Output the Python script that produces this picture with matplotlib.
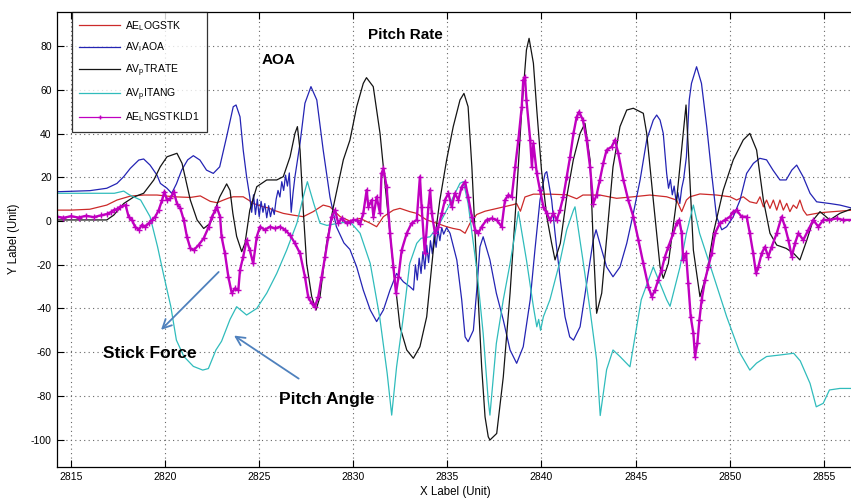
import matplotlib
matplotlib.use("Agg")
import matplotlib.pyplot as plt

plt.rcParams["font.family"] = ["Liberation Sans", "DejaVu Sans"]
plt.rcParams["mathtext.fontset"] = "custom"
plt.rcParams["mathtext.rm"] = "Liberation Sans"
plt.rcParams["mathtext.it"] = "Liberation Sans:italic"
plt.rcParams["axes.unicode_minus"] = False

# ---- flight-test channels (time in s) ----
t_red = [2814.27, 2815.0, 2816.0, 2816.9, 2817.44, 2818.15, 2818.86, 2819.57, 2820.45, 2821.34,
         2821.87, 2822.4, 2822.76, 2823.1, 2823.4, 2823.62, 2824.15, 2824.45, 2824.7, 2825.2,
         2825.5, 2825.75, 2826.28, 2826.8, 2827.34, 2827.87, 2828.4, 2828.76, 2829.3, 2829.82,
         2830.36, 2830.9, 2831.24, 2831.6, 2832.13, 2832.48, 2833.0, 2833.37, 2833.9, 2834.43,
         2834.96, 2835.31, 2835.67, 2835.94, 2836.2, 2836.56, 2837.0, 2837.5, 2838.0, 2838.5,
         2838.68, 2838.88, 2839.12, 2839.57, 2840.45, 2841.34, 2841.87, 2842.2, 2843.1, 2843.99,
         2844.88, 2845.76, 2846.65, 2847.18, 2847.45, 2847.7, 2847.89, 2848.42, 2849.3, 2850.02,
         2850.37, 2850.72, 2851.07, 2851.43, 2851.61, 2851.79, 2851.96, 2852.14, 2852.32, 2852.5,
         2852.67, 2852.85, 2853.03, 2853.2, 2853.38, 2853.56, 2853.73, 2853.91, 2854.1, 2854.8,
         2855.5, 2856.55]
v_red = [5.0, 5.0, 5.4, 7.3, 9.6, 11.4, 11.9, 11.9, 11.1, 10.8,
         11.5, 9.0, 8.4, 9.6, 10.6, 11.1, 11.1, 9.5, 8.0, 6.5,
         6.0, 5.0, 3.5, 2.7, 2.0, 4.3, 7.3, 6.5, 2.0, 0.0,
         1.2, -1.0, -2.6, 2.0, 5.0, 5.8, 4.3, 3.5, 0.5, -1.0,
         -2.6, -3.4, -4.0, -5.6, -1.0, 3.0, 4.5, 5.5, 6.5, 7.5,
         8.0, 4.5, 11.0, 12.3, 12.3, 12.0, 10.2, 11.9, 11.9, 10.4,
         11.1, 11.9, 11.1, 9.6, 4.3, 9.6, 11.1, 12.4, 11.9, 11.1,
         9.6, 11.1, 8.8, 8.1, 11.1, 6.5, 9.6, 5.8, 9.6, 5.0,
         9.6, 5.0, 8.1, 4.3, 7.3, 5.8, 9.6, 5.0, 2.7, 3.8,
         4.3, 5.0]

t_blue = [2814.27, 2816.0, 2816.9, 2817.44, 2817.8, 2818.15, 2818.6, 2818.86, 2819.2, 2819.57,
          2819.75, 2820.1, 2820.35, 2820.6, 2820.88, 2821.2, 2821.5, 2821.85, 2822.2, 2822.56,
          2822.9, 2823.27, 2823.62, 2823.77, 2823.98, 2824.15, 2824.33, 2824.5, 2824.6, 2824.7,
          2824.8, 2824.9, 2825.0, 2825.1, 2825.2, 2825.3, 2825.4, 2825.5, 2825.6, 2825.7,
          2825.8, 2825.9, 2826.0, 2826.1, 2826.2, 2826.3, 2826.4, 2826.5, 2826.6, 2826.7,
          2826.8, 2826.9, 2827.17, 2827.43, 2827.75, 2828.06, 2828.4, 2828.76, 2829.1, 2829.5,
          2829.82, 2830.18, 2830.53, 2830.9, 2831.24, 2831.6, 2831.95, 2832.3, 2832.66, 2833.0,
          2833.2, 2833.3, 2833.4, 2833.5, 2833.6, 2833.7, 2833.8, 2833.9, 2834.0, 2834.1,
          2834.2, 2834.3, 2834.4, 2834.5, 2834.6, 2834.7, 2834.8, 2834.96, 2835.14, 2835.5,
          2835.76, 2835.94, 2836.1, 2836.38, 2836.56, 2836.73, 2836.9, 2837.26, 2837.6, 2837.97,
          2838.33, 2838.68, 2839.03, 2839.4, 2839.65, 2839.92, 2840.19, 2840.28, 2840.54, 2840.72,
          2841.0, 2841.25, 2841.5, 2841.7, 2842.05, 2842.4, 2842.75, 2842.9, 2843.1, 2843.46,
          2843.8, 2844.17, 2844.53, 2844.88, 2845.24, 2845.59, 2845.94, 2846.12, 2846.3, 2846.47,
          2846.65, 2846.75, 2846.85, 2846.95, 2847.05, 2847.15, 2847.25, 2847.35, 2847.45, 2847.55,
          2847.7, 2847.85, 2847.97, 2848.24, 2848.5, 2848.78, 2849.04, 2849.3, 2849.58, 2849.84,
          2850.19, 2850.55, 2850.9, 2851.26, 2851.6, 2851.96, 2852.3, 2852.67, 2853.0, 2853.3,
          2853.56, 2853.9, 2854.27, 2854.62, 2855.33, 2855.86, 2856.55]
v_blue = [13.4, 13.9, 15.0, 17.2, 20.3, 24.1, 27.9, 28.4, 25.6, 21.0,
          17.2, 15.0, 12.7, 17.0, 23.3, 28.0, 29.9, 27.9, 23.3, 21.8,
          24.8, 38.6, 52.3, 53.1, 47.7, 32.5, 20.3, 11.0, 4.0, 12.0,
          3.0, 10.0, 2.0, 9.0, 4.0, 8.0, 1.5, 7.0, 2.0, 6.0,
          3.0, 10.0, 14.0, 11.0, 18.0, 14.0, 21.0, 16.0, 22.0, 4.0,
          13.0, 20.3, 35.6, 53.9, 61.5, 55.4, 32.5, 11.0, -2.6, -10.0,
          -13.0, -21.0, -31.6, -40.7, -46.0, -40.7, -31.6, -24.0, -27.8, -30.0,
          -31.6, -20.0, -27.0, -17.0, -24.0, -14.0, -22.0, -11.0, -19.0, -9.0,
          -15.0, -6.0, -12.0, -4.0, -9.0, -3.0, -6.0, -3.0, -5.6, -17.8,
          -36.0, -53.0, -55.2, -50.0, -31.6, -11.8, -7.2, -17.8, -33.0, -45.3,
          -59.0, -65.1, -57.5, -36.0, -13.3, 9.6, 21.8, 22.6, 9.6, -5.6,
          -27.0, -43.8, -53.0, -54.5, -48.4, -28.5, -8.7, -4.0, -10.2, -21.0,
          -25.5, -21.0, -10.2, 3.5, 18.8, 37.1, 46.2, 48.5, 46.2, 40.1,
          21.8, 15.0, 19.0, 12.0, 16.0, 9.0, 13.0, 8.0, 15.0, 19.0,
          29.4, 55.4, 63.0, 70.6, 63.0, 43.2, 21.8, 2.0, -4.0, -2.6,
          2.0, 9.6, 21.8, 26.4, 28.7, 28.0, 23.3, 18.8, 18.8, 23.3,
          25.6, 20.3, 12.7, 8.8, 8.0, 7.3, 5.8]

t_black = [2814.27, 2816.9, 2817.27, 2817.8, 2818.33, 2818.86, 2819.4, 2819.74, 2820.1, 2820.63,
           2820.9, 2821.34, 2821.7, 2822.05, 2822.4, 2822.9, 2823.27, 2823.45, 2823.6, 2823.8,
           2824.07, 2824.25, 2824.5, 2824.87, 2825.4, 2825.93, 2826.28, 2826.64, 2826.9, 2827.03,
           2827.17, 2827.34, 2827.52, 2827.79, 2828.02, 2828.23, 2828.58, 2828.94, 2829.47, 2829.82,
           2830.18, 2830.53, 2830.7, 2831.06, 2831.42, 2831.77, 2832.13, 2832.48, 2832.84, 2833.19,
           2833.54, 2833.9, 2834.25, 2834.6, 2834.96, 2835.31, 2835.67, 2835.88, 2836.1, 2836.3,
           2836.47, 2836.64, 2836.82, 2837.0, 2837.17, 2837.26, 2837.62, 2837.97, 2838.33, 2838.68,
           2838.95, 2839.2, 2839.34, 2839.57, 2839.75, 2840.0, 2840.28, 2840.54, 2840.72, 2841.0,
           2841.34, 2841.69, 2842.05, 2842.31, 2842.58, 2842.75, 2842.93, 2843.2, 2843.46, 2843.8,
           2844.17, 2844.53, 2844.88, 2845.41, 2845.59, 2845.94, 2846.3, 2846.47, 2846.74, 2847.18,
           2847.53, 2847.68, 2847.85, 2848.07, 2848.42, 2848.78, 2849.13, 2849.66, 2850.19, 2850.72,
           2851.07, 2851.43, 2851.79, 2852.14, 2852.5, 2853.0, 2853.4, 2853.73, 2854.1, 2854.44,
           2854.8, 2855.32, 2855.85, 2856.55]
v_black = [0.5, 0.5, 2.7, 8.0, 11.0, 12.7, 18.8, 24.8, 29.4, 31.0,
           26.4, 9.6, 0.5, -3.4, -1.0, 11.0, 17.0, 14.0, 3.5, -7.0,
           -14.0, -10.0, 5.0, 15.7, 18.8, 18.8, 20.3, 29.4, 40.1, 43.2,
           32.5, 5.0, -19.4, -34.6, -40.7, -34.6, -10.2, 6.5, 28.0, 37.0,
           52.3, 63.0, 65.6, 61.5, 40.1, 9.6, -21.0, -48.4, -59.0, -62.8,
           -57.5, -43.8, -13.3, 9.6, 28.0, 43.2, 55.4, 58.4, 52.3, 24.8,
           -5.6, -36.0, -66.7, -89.6, -98.7, -100.2, -97.2, -71.3, -33.0, 12.7,
           50.8, 78.3, 83.6, 72.2, 50.8, 23.3, 2.0, -10.2, -17.8, -10.2,
           11.0, 28.0, 40.1, 44.7, 28.0, -10.2, -42.2, -33.0, -8.0, 24.8,
           43.2, 50.8, 51.6, 49.3, 40.1, 9.6, -21.0, -26.2, -19.4, 9.6,
           40.1, 53.1, 24.8, -13.3, -34.6, -24.0, -5.6, 14.2, 28.0, 37.1,
           40.1, 32.5, 9.6, -5.6, -11.0, -12.5, -14.8, -17.8, -8.7, 0.5,
           4.3, 0.5, 3.5, 5.8]

t_cyan = [2814.27, 2817.3, 2817.8, 2818.1, 2818.7, 2819.2, 2819.6, 2819.9, 2820.3, 2820.6,
          2821.0, 2821.5, 2822.0, 2822.3, 2822.7, 2823.0, 2823.45, 2823.8, 2824.33, 2824.87,
          2825.4, 2825.93, 2826.46, 2827.0, 2827.34, 2827.56, 2827.9, 2828.23, 2828.6, 2829.2,
          2829.83, 2830.36, 2830.9, 2831.4, 2831.8, 2832.04, 2832.3, 2832.66, 2833.0, 2833.37,
          2833.6, 2834.08, 2834.6, 2835.14, 2835.67, 2835.85, 2836.1, 2836.56, 2836.9, 2837.17,
          2837.26, 2837.6, 2837.97, 2838.33, 2838.68, 2838.77, 2839.2, 2839.57, 2839.75, 2839.85,
          2839.95, 2840.1, 2840.45, 2841.0, 2841.34, 2841.7, 2841.78, 2842.2, 2842.58, 2842.93,
          2843.12, 2843.46, 2843.8, 2844.17, 2844.7, 2845.3, 2845.94, 2846.65, 2846.83, 2847.36,
          2847.7, 2848.07, 2848.4, 2849.1, 2849.84, 2850.55, 2851.07, 2851.43, 2851.96, 2852.67,
          2853.4, 2853.75, 2854.27, 2854.6, 2854.97, 2855.3, 2855.85, 2856.55]
v_cyan = [12.7, 12.7, 13.7, 12.0, 9.6, 2.0, -11.8, -23.8, -39.0, -54.5,
          -62.0, -66.5, -68.2, -67.5, -59.0, -55.0, -45.0, -39.2, -43.0, -40.0,
          -33.0, -24.0, -13.3, -1.0, 11.0, 18.0, 8.0, -1.0, -2.0, -1.0,
          -0.3, -5.6, -19.4, -43.8, -69.7, -88.8, -66.7, -43.8, -19.4, -10.2,
          -7.9, -7.2, -1.0, 8.0, 17.3, 18.0, 8.0, -22.0, -51.4, -82.0,
          -88.8, -56.0, -36.0, -19.4, -1.0, 4.3, -17.8, -39.2, -48.4, -45.0,
          -50.0, -43.8, -36.0, -17.8, -4.0, 5.0, 6.5, -17.8, -40.7, -63.6,
          -89.0, -68.0, -59.0, -62.0, -66.7, -36.0, -21.0, -36.0, -39.0, -21.0,
          -5.6, 7.3, -5.6, -24.0, -43.8, -60.5, -68.2, -65.0, -62.0, -61.3,
          -60.5, -64.0, -74.3, -85.0, -83.4, -77.3, -76.6, -76.6]

t_mag = [2814.27, 2814.6, 2815.0, 2815.4, 2815.8, 2816.2, 2816.6, 2816.9, 2817.1, 2817.27,
         2817.45, 2817.6, 2817.9, 2818.06, 2818.24, 2818.4, 2818.6, 2818.77, 2818.95, 2819.13,
         2819.3, 2819.48, 2819.66, 2819.84, 2819.96, 2820.1, 2820.28, 2820.46, 2820.63, 2820.81,
         2820.99, 2821.16, 2821.34, 2821.52, 2821.78, 2822.05, 2822.32, 2822.49, 2822.67, 2822.74,
         2822.92, 2823.0, 2823.18, 2823.36, 2823.54, 2823.71, 2823.89, 2823.98, 2824.15, 2824.33,
         2824.5, 2824.68, 2824.87, 2825.04, 2825.3, 2825.57, 2825.84, 2826.1, 2826.37, 2826.64,
         2826.9, 2827.17, 2827.43, 2827.6, 2827.79, 2827.96, 2828.14, 2828.32, 2828.5, 2828.67,
         2828.85, 2829.03, 2829.2, 2829.38, 2829.65, 2829.82, 2830.0, 2830.18, 2830.36, 2830.53,
         2830.71, 2830.8, 2830.98, 2831.07, 2831.24, 2831.42, 2831.5, 2831.6, 2831.77, 2831.95,
         2832.13, 2832.27, 2832.4, 2832.57, 2832.84, 2833.1, 2833.37, 2833.54, 2833.63, 2833.8,
         2833.99, 2834.08, 2834.17, 2834.34, 2834.52, 2834.7, 2834.87, 2835.05, 2835.23, 2835.4,
         2835.58, 2835.76, 2835.94, 2836.1, 2836.3, 2836.47, 2836.64, 2836.82, 2837.08, 2837.35,
         2837.62, 2837.88, 2838.06, 2838.24, 2838.42, 2838.6, 2838.77, 2838.95, 2839.03, 2839.12,
         2839.2, 2839.4, 2839.49, 2839.57, 2839.75, 2839.92, 2840.1, 2840.28, 2840.45, 2840.63,
         2840.81, 2840.98, 2841.16, 2841.34, 2841.52, 2841.7, 2841.87, 2842.0, 2842.2, 2842.4,
         2842.58, 2842.75, 2842.93, 2843.1, 2843.28, 2843.46, 2843.73, 2843.9, 2844.08, 2844.35,
         2844.61, 2844.88, 2845.15, 2845.41, 2845.68, 2845.86, 2846.03, 2846.2, 2846.38, 2846.56,
         2846.74, 2847.0, 2847.18, 2847.32, 2847.45, 2847.53, 2847.68, 2847.8, 2847.93, 2848.07,
         2848.16, 2848.28, 2848.39, 2848.51, 2848.69, 2848.86, 2849.04, 2849.22, 2849.48, 2849.75,
         2850.02, 2850.19, 2850.37, 2850.63, 2850.9, 2851.07, 2851.25, 2851.4, 2851.52, 2851.7,
         2851.87, 2852.05, 2852.23, 2852.5, 2852.76, 2852.94, 2853.12, 2853.3, 2853.47, 2853.65,
         2853.91, 2854.18, 2854.44, 2854.71, 2854.97, 2855.3, 2855.68, 2856.03, 2856.55]
v_mag = [2.0, 1.5, 2.2, 1.6, 2.4, 1.8, 2.6, 3.2, 4.0, 5.0,
         5.5, 6.5, 7.3, 2.0, 0.5, -2.6, -4.0, -1.8, -2.6, -1.0,
         0.5, 2.0, 5.0, 9.6, 13.4, 9.6, 10.4, 13.4, 8.0, 5.8,
         0.5, -7.2, -12.5, -13.3, -11.0, -7.9, -2.6, 2.0, 5.0, 6.5,
         2.0, -7.2, -14.8, -25.5, -33.0, -30.8, -31.6, -22.4, -16.3, -8.7,
         -13.3, -19.4, -7.2, -2.6, -4.0, -2.6, -3.4, -2.6, -4.0, -6.4,
         -10.2, -14.8, -25.5, -34.6, -37.7, -39.2, -34.6, -25.5, -16.3, -7.2,
         2.0, 5.0, -1.0, 1.2, -1.0, -0.3, 0.5, 0.5, -1.5, 3.5,
         14.2, 6.5, 9.6, 2.0, 11.1, 3.5, 21.8, 24.1, 15.7, -5.6,
         -21.0, -33.0, -25.5, -13.3, -5.6, -1.0, 0.5, 20.3, 6.5, -14.8,
         6.5, 14.2, 3.5, -5.6, -2.6, 3.5, 9.6, 12.7, 6.5, 12.7,
         9.6, 15.7, 18.0, 11.1, 2.0, -4.0, -5.6, -2.6, 0.5, 1.2,
         0.5, -2.6, 9.6, 11.9, 11.1, 24.8, 37.1, 52.3, 64.5, 66.0,
         55.4, 37.1, 24.8, 35.6, 21.8, 14.2, 6.5, 3.5, 0.5, 3.5,
         0.5, 5.0, 11.1, 20.3, 29.4, 40.1, 47.7, 50.0, 46.2, 37.1,
         24.8, 8.0, 12.0, 18.8, 26.4, 32.5, 34.0, 37.1, 31.0, 18.8,
         9.6, 2.0, -8.7, -19.4, -30.0, -34.6, -31.6, -27.0, -22.4, -16.3,
         -11.8, -5.6, -1.0, 0.5, -5.6, -17.8, -14.8, -28.5, -43.8, -51.4,
         -62.0, -56.0, -45.3, -36.0, -27.0, -21.0, -14.8, -5.6, -1.0, 0.5,
         2.0, 4.3, 5.0, 2.0, 2.0, -5.6, -14.8, -24.0, -21.0, -14.8,
         -11.8, -16.3, -11.8, -5.6, 2.0, -2.6, -8.7, -16.3, -10.2, -5.6,
         -8.7, -4.0, 0.5, -2.6, 0.5, 0.5, 1.2, 0.5, 0.5]

series_labels = [r"AE$_\mathrm{L}$OGSTK", r"AV$_\mathrm{I}$AOA", r"AV$_\mathrm{p}$TRATE",
                 r"AV$_\mathrm{p}$ITANG", r"AE$_\mathrm{L}$NGSTKLD1"]
x_ticks = [2815, 2820, 2825, 2830, 2835, 2840, 2845, 2850, 2855]
y_ticks = [-100, -80, -60, -40, -20, 0, 20, 40, 60, 80]

fig = plt.figure(figsize=(8.51, 5.01), dpi=100)
ax = fig.add_axes([0.0673, 0.0685, 0.935, 0.9082])

lw = 0.9
ax.plot(t_red, v_red, color="#cc2a2a", lw=lw, label=series_labels[0])
ax.plot(t_blue, v_blue, color="#2424b4", lw=lw, label=series_labels[1])
ax.plot(t_black, v_black, color="#141414", lw=lw, label=series_labels[2])
ax.plot(t_cyan, v_cyan, color="#30bcbc", lw=lw, label=series_labels[3])
ax.plot(t_mag, v_mag, color="#c000c0", lw=1.7, marker="+", ms=4.5, mew=1.0,
        label=series_labels[4])

ax.set_xlim(2814.27, 2856.55)
ax.set_ylim(-112.4, 95.8)
ax.set_xticks(x_ticks)
ax.set_yticks(y_ticks)
ax.tick_params(direction="in", top=True, right=False, length=5, width=0.8,
               labelsize=7.5, pad=4)
ax.grid(True, linestyle=(0, (1, 3)), color="#666666", lw=0.8)
for side in ["left", "bottom", "top"]:
    ax.spines[side].set_linewidth(0.9)
ax.set_xlabel("X Label (Unit)", fontsize=8.3, labelpad=3)
ax.set_ylabel("Y Label (Unit)", fontsize=8.3, labelpad=8)

leg = ax.legend(loc="upper left", bbox_to_anchor=(0.0185, 1.0), borderaxespad=0,
                fontsize=7.5, frameon=True, fancybox=False, edgecolor="black",
                handlelength=3.9, handletextpad=0.5, labelspacing=0.75, borderpad=0.7)
leg.get_frame().set_linewidth(0.9)
leg.set_zorder(5)
for h in leg.get_lines():
    if h.get_marker() == "+":
        h.set_linewidth(0.9)
        h.set_markersize(3.5)
        h.set_markevery([1])

# channel call-outs
ax.text(2830.78, 85.1, "Pitch Rate", fontsize=11, fontweight="bold", va="center")
ax.text(2825.15, 73.7, "AOA", fontsize=11, fontweight="bold", va="center")
ax.text(2816.7, -60.4, "Stick Force", fontsize=12.5, fontweight="bold", va="center")
ax.text(2826.05, -81.5, "Pitch Angle", fontsize=12.5, fontweight="bold", va="center")

arrow_kw = dict(arrowstyle="->", color="#4f81bd", lw=1.3, mutation_scale=16)
ax.annotate("", xy=(2819.68, -50.7), xytext=(2822.95, -22.4), arrowprops=arrow_kw)
ax.annotate("", xy=(2823.54, -51.7), xytext=(2827.22, -72.8), arrowprops=arrow_kw)

fig.savefig("out.png", dpi=100)
